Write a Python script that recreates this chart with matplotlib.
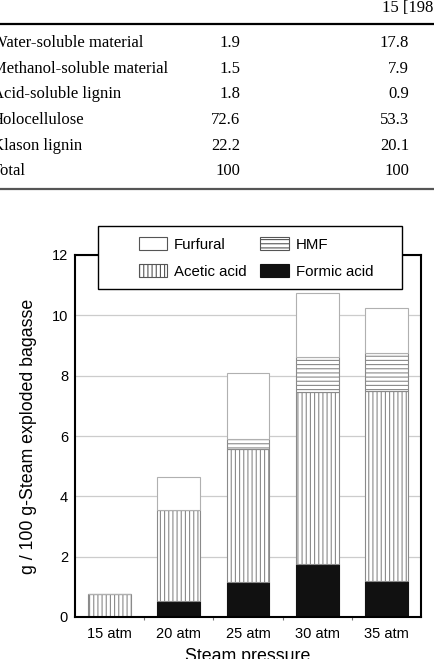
import matplotlib.pyplot as plt
from matplotlib.patches import Patch, Rectangle
import numpy as np

# table fragment above the chart
row_names = ["Water-soluble material", "Methanol-soluble material", "Acid-soluble lignin",
             "Holocellulose", "Klason lignin", "Total"]
col_a = ["1.9", "1.5", "1.8", "72.6", "22.2", "100"]
col_b = ["17.8", "7.9", "0.9", "53.3", "20.1", "100"]
col_header = "15 [1987]"

# chart data (g / 100 g steam exploded bagasse)
pressures = ["15 atm", "20 atm", "25 atm", "30 atm", "35 atm"]
formic = [0.0, 0.53, 1.17, 1.76, 1.19]
acetic = [0.75, 3.02, 4.39, 5.69, 6.31]
hmf = [0.0, 0.0, 0.33, 1.16, 1.24]
furfural = [0.0, 1.08, 2.21, 2.12, 1.51]

W, H = 435, 659
plt.rcParams['hatch.linewidth'] = 0.8
fig = plt.figure(figsize=(W / 100, H / 100), dpi=100)


def fx(px):
    return px / W


def fy(py):
    return 1 - py / H


# ---- table ----
serif = "Liberation Serif"
tsize = 12
fig.text(fx(382), fy(8), col_header, family=serif, fontsize=tsize, ha="left", va="center")
fig.add_artist(plt.Line2D([0, 1], [fy(24), fy(24)], color="black", lw=1.6, transform=fig.transFigure))
row_y = [43, 69, 94, 120, 146, 171]
for name, a, b, y in zip(row_names, col_a, col_b, row_y):
    fig.text(fx(-8), fy(y), name, family=serif, fontsize=tsize, ha="left", va="center")
    fig.text(fx(240), fy(y), a, family=serif, fontsize=tsize, ha="right", va="center")
    fig.text(fx(409), fy(y), b, family=serif, fontsize=tsize, ha="right", va="center")
fig.add_artist(plt.Line2D([0, 1], [fy(189), fy(189)], color="#555555", lw=1.6, transform=fig.transFigure))

# ---- stacked bar chart ----
ax = fig.add_axes([fx(75), fy(617), fx(421) - fx(75), fy(255) - fy(617)])
x = np.arange(len(pressures))
width = 0.62
sans = "Liberation Sans"
grey = "#8a8a8a"

b1 = np.array(formic)
b2 = b1 + np.array(acetic)
b3 = b2 + np.array(hmf)

ax.bar(x, formic, width, color="#111111", edgecolor="#111111", lw=0.8, zorder=2)
ax.bar(x, acetic, width, bottom=b1, color="white", edgecolor=grey, hatch="||||", lw=0.8, zorder=2)
ax.bar(x, hmf, width, bottom=b2, color="white", edgecolor=grey, hatch="----", lw=0.8, zorder=2)
ax.bar(x, furfural, width, bottom=b3, color="white", edgecolor="#b0b0b0", lw=0.8, zorder=2)

ax.set_xlim(-0.5, len(pressures) - 0.5)
ax.set_ylim(0, 12)
ax.set_yticks([0, 2, 4, 6, 8, 10, 12])
ax.set_xticks(x)
ax.set_xticklabels(pressures, family=sans, fontsize=10.5)
ax.set_xticks(x[:-1] + 0.5, minor=True)
for lbl in ax.get_yticklabels():
    lbl.set_family(sans)
    lbl.set_fontsize(10.5)
ax.tick_params(axis="x", which="major", length=0, pad=7)
ax.tick_params(axis="x", which="minor", length=2, color="#777777", width=0.8)
ax.tick_params(axis="y", length=0, pad=5)
ax.yaxis.grid(True, color="#cccccc", lw=0.9, zorder=0)
ax.set_axisbelow(True)
for s in ax.spines.values():
    s.set_linewidth(1.5)
    s.set_color("black")

ax.set_xlabel("Steam pressure", family=sans, fontsize=12.8, labelpad=5)
ax.set_ylabel("g / 100 g-Steam exploded bagasse", family=sans, fontsize=12.8)
ax.yaxis.set_label_coords((37 - 75) / (421 - 75), 0.5)

# legend box drawn on top of the axes
fig.add_artist(Rectangle((fx(98), fy(289)), fx(402) - fx(98), fy(226) - fy(289),
                         transform=fig.transFigure, facecolor="white", edgecolor="black",
                         lw=1.0, zorder=3))
handles = [
    Patch(facecolor="white", edgecolor="#555555", lw=0.8, label="Furfural"),
    Patch(facecolor="white", edgecolor="#555555", hatch="||||", lw=0.8, label="Acetic acid"),
    Patch(facecolor="white", edgecolor="#555555", hatch="----", lw=0.8, label="HMF"),
    Patch(facecolor="#111111", edgecolor="#111111", lw=0.8, label="Formic acid"),
]
leg = fig.legend(handles=handles, ncol=2, loc="center", bbox_to_anchor=(fx(256), fy(258)),
                 frameon=False, prop={"family": sans, "size": 10.8},
                 handlelength=1.9, handleheight=0.95, handletextpad=0.45,
                 columnspacing=0.9, labelspacing=0.85, borderpad=0)
leg.set_zorder(5)

fig.savefig("out.png", dpi=100)
